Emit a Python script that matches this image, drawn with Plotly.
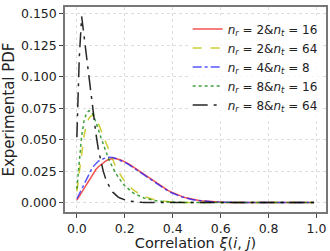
import plotly.graph_objects as go

x_vals = [round(i * 0.01, 2) for i in range(100)]

def pad(vals):
    return vals + [0.0] * (100 - len(vals))

red_2_16 = pad([0.002, 0.005, 0.008, 0.011, 0.0145, 0.018, 0.021, 0.024, 0.0265, 0.0285,
                0.030, 0.0318, 0.033, 0.034, 0.0347, 0.035, 0.035, 0.0347, 0.034, 0.0333,
                0.0325, 0.0315, 0.0303, 0.029, 0.0277, 0.0264, 0.025, 0.0237, 0.0224, 0.021,
                0.0197, 0.0183, 0.017, 0.0157, 0.0144, 0.0131, 0.0119, 0.0108, 0.0097, 0.0087,
                0.0078, 0.0069, 0.0061, 0.0054, 0.0047, 0.0041, 0.0036, 0.0031, 0.0027, 0.0023,
                0.002, 0.0017, 0.0014, 0.0012, 0.001, 0.0008, 0.0007, 0.0006, 0.0005, 0.0004,
                0.0003, 0.0002, 0.00015, 0.0001])

yellow_2_64 = pad([0.009, 0.024, 0.040, 0.053, 0.062, 0.067, 0.069, 0.0695, 0.067, 0.063,
                   0.058, 0.053, 0.048, 0.043, 0.038, 0.0335, 0.0295, 0.026, 0.0225, 0.0195,
                   0.017, 0.0147, 0.0127, 0.011, 0.0095, 0.0081, 0.0069, 0.0059, 0.005, 0.0042,
                   0.0036, 0.003, 0.0025, 0.0021, 0.0017, 0.0014, 0.0012, 0.001, 0.0008, 0.0006,
                   0.0005, 0.0004, 0.0003, 0.0002, 0.0001])

blue_4_8 = pad([0.003, 0.007, 0.011, 0.015, 0.019, 0.023, 0.026, 0.029, 0.031, 0.033,
                0.034, 0.035, 0.0355, 0.036, 0.036, 0.0358, 0.0353, 0.0346, 0.0338, 0.033,
                0.032, 0.031, 0.0297, 0.0284, 0.027, 0.0257, 0.0245, 0.0233, 0.022, 0.0206,
                0.0192, 0.0178, 0.0164, 0.015, 0.0137, 0.0125, 0.0113, 0.0102, 0.0092, 0.0082,
                0.0073, 0.0065, 0.0057, 0.005, 0.0044, 0.0038, 0.0033, 0.0029, 0.0025, 0.0021,
                0.0018, 0.0015, 0.0013, 0.0011, 0.0009, 0.0007, 0.0006, 0.0005, 0.0004, 0.0003,
                0.0002, 0.00015, 0.0001])

green_8_16 = pad([0.011, 0.034, 0.053, 0.065, 0.071, 0.073, 0.0725, 0.069, 0.064, 0.058,
                  0.052, 0.046, 0.041, 0.036, 0.0315, 0.0275, 0.024, 0.021, 0.018, 0.0155,
                  0.0133, 0.0114, 0.0098, 0.0084, 0.0072, 0.0061, 0.0052, 0.0044, 0.0037, 0.0031,
                  0.0026, 0.0022, 0.0018, 0.0015, 0.0012, 0.001, 0.0008, 0.0006, 0.0005, 0.0004,
                  0.0003, 0.0002, 0.0001])

black_8_64 = pad([0.052, 0.115, 0.148, 0.132, 0.115, 0.098, 0.083, 0.068, 0.054, 0.042,
                  0.032, 0.025, 0.019, 0.0145, 0.011, 0.0083, 0.0063, 0.0048, 0.0036, 0.0027,
                  0.002, 0.0015, 0.0011, 0.0008, 0.0006, 0.0004, 0.0003, 0.0002, 0.00015, 0.0001])

names = [
    "<i>n</i><sub><i>r</i></sub> = 2&amp;<i>n</i><sub><i>t</i></sub> = 16",
    "<i>n</i><sub><i>r</i></sub> = 2&amp;<i>n</i><sub><i>t</i></sub> = 64",
    "<i>n</i><sub><i>r</i></sub> = 4&amp;<i>n</i><sub><i>t</i></sub> = 8",
    "<i>n</i><sub><i>r</i></sub> = 8&amp;<i>n</i><sub><i>t</i></sub> = 16",
    "<i>n</i><sub><i>r</i></sub> = 8&amp;<i>n</i><sub><i>t</i></sub> = 64",
]
series = [red_2_16, yellow_2_64, blue_4_8, green_8_16, black_8_64]
colors = ["rgba(240,40,40,0.8)", "rgba(191,191,0,0.8)", "rgba(30,30,255,0.75)",
          "rgba(0,128,0,0.75)", "rgba(0,0,0,0.85)"]
dashes = ["solid", "dash", "dashdot", "dot", "longdashdot"]

fig = go.Figure()
for nm, ys, c, d in zip(names, series, colors, dashes):
    fig.add_trace(go.Scatter(x=x_vals, y=ys, mode="lines", name=nm,
                             line=dict(color=c, dash=d, width=1.5)))

font = "DejaVu Sans"
fig.update_layout(
    width=330, height=251,
    margin=dict(l=65, r=2, t=7, b=39),
    paper_bgcolor="white", plot_bgcolor="white",
    font=dict(family=font, size=12, color="#222"),
    showlegend=True,
    legend=dict(x=0.47, xanchor="left", y=0.963, yanchor="top",
                bgcolor="rgba(255,255,255,0.8)", borderwidth=0,
                font=dict(family=font, size=12, color="#222"),
                tracegroupgap=0),
    xaxis=dict(range=[-0.0495, 1.0395], tickvals=[0, 0.2, 0.4, 0.6, 0.8, 1.0],
               ticktext=["0.0", "0.2", "0.4", "0.6", "0.8", "1.0"],
               showgrid=True, gridcolor="#dddddd", griddash="dot", gridwidth=1,
               zeroline=False, showline=True, linecolor="#777", linewidth=1.5, mirror=True,
               ticks="outside", ticklen=4, tickcolor="#444",
               tickfont=dict(size=12.5),
               title=dict(text="Correlation <i>ξ</i>(<i>i</i>, <i>j</i>)",
                          font=dict(size=14.5), standoff=1)),
    yaxis=dict(range=[-0.0075, 0.1555], tickvals=[0, 0.025, 0.05, 0.075, 0.1, 0.125, 0.15],
               ticktext=["0.000", "0.025", "0.050", "0.075", "0.100", "0.125", "0.150"],
               showgrid=True, gridcolor="#dddddd", griddash="dot", gridwidth=1,
               zeroline=False, showline=True, linecolor="#777", linewidth=1.5, mirror=True,
               ticks="outside", ticklen=4, tickcolor="#444",
               tickfont=dict(size=12.5),
               title=dict(text="Experimental PDF", font=dict(size=15), standoff=6)),
)

fig.write_html("out.html")
